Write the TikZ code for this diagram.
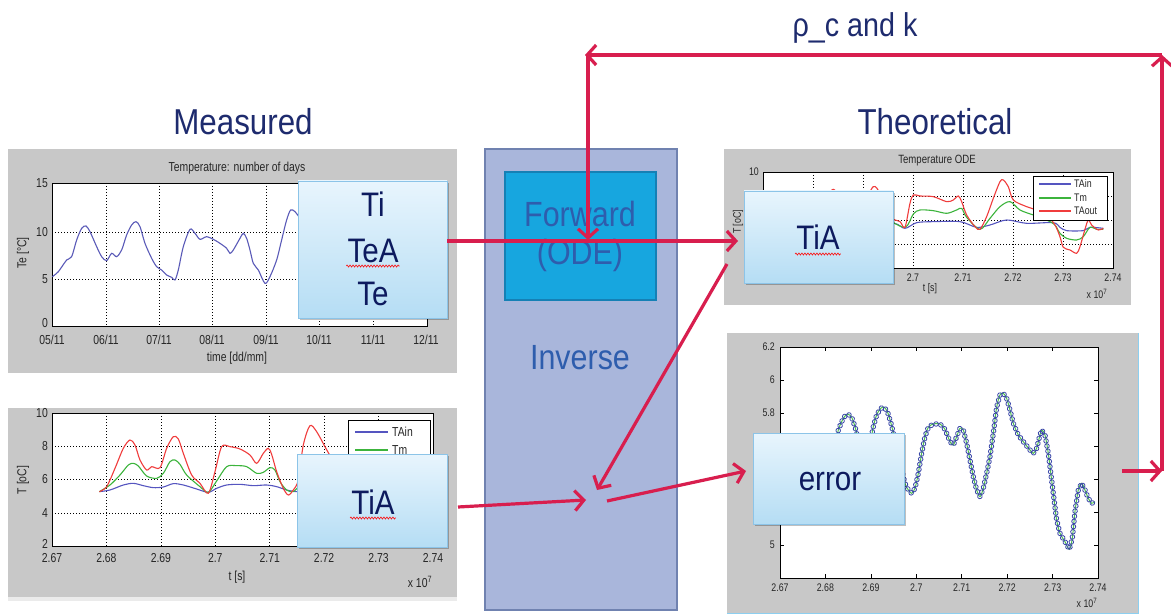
\documentclass[tikz,border=0pt]{standalone}
\usepackage{fontspec}
\setmainfont[FakeStretch=0.87]{Liberation Sans}
\newfontfamily\pf[FakeStretch=0.8]{Liberation Sans}
\usetikzlibrary{arrows.meta,shadows,decorations.pathmorphing,decorations.markings}
\definecolor{arrc}{HTML}{D81E4E}
\definecolor{panelc}{HTML}{C8C8C8}
\definecolor{navy}{HTML}{0D1A5E}
\definecolor{headc}{HTML}{1E2B6E}
\definecolor{invfill}{HTML}{A9B6DB}
\definecolor{invedge}{HTML}{7082B0}
\definecolor{fwdfill}{HTML}{17A6DF}
\definecolor{fwdedge}{HTML}{1580B5}
\definecolor{fwdtext}{HTML}{2E5DAD}
\definecolor{boxtop}{HTML}{E8F5FD}
\definecolor{boxbot}{HTML}{B5DDF4}
\definecolor{boxedge}{HTML}{8CC4E8}
\definecolor{tainc}{HTML}{5555C0}
\definecolor{tmc}{HTML}{3CB43C}
\definecolor{taoutc}{HTML}{F03C3C}
\definecolor{tec}{HTML}{5A5AB8}
\definecolor{markc}{HTML}{3A46A8}
\definecolor{errline}{HTML}{4CBF4C}
\definecolor{edgeblue}{HTML}{8CCFF0}
\tikzset{
  arr/.style={draw=arrc, line width=3.2pt, -{Straight Barb[length=9pt,width=20pt]}},
  gridl/.style={black, line width=0.6pt, dash pattern=on 1.2pt off 1.8pt},
  frame/.style={draw=black, line width=0.7pt},
  lbl/.style={font=\pf\fontsize{13}{13}\selectfont, text=black!85, inner sep=0pt},
  slbl/.style={font=\pf\fontsize{11}{11}\selectfont, text=black!85, inner sep=0pt},
  lbox/.style={draw=boxedge, line width=0.8pt, top color=boxtop, bottom color=boxbot,
    drop shadow={shadow xshift=2pt, shadow yshift=-2pt, fill=black, opacity=0.25}, inner sep=0pt},
  btxt/.style={font=\fontsize{34}{34}\selectfont, text=navy, inner sep=0pt, anchor=base},
  headt/.style={font=\fontsize{36}{36}\selectfont, text=headc, inner sep=0pt, anchor=base},
  squig/.style={draw=red, line width=0.6pt, decorate, decoration={zigzag, segment length=3pt, amplitude=1pt}},
  curve/.style={line width=1.1pt},
}
\def\errdata{(330,470) (345,380) (355,330) (365,305) (375,288) (385,283) (395,292) (405,320) (415,360) (430,420) (445,400) (460,320) (470,285) (482,265) (493,262) (503,277) (513,310) (525,360) (540,430) (555,490) (565,510) (575,520) (585,505) (595,460) (605,400) (615,350) (625,322) (640,312) (660,312) (675,328) (690,365) (700,375) (710,350) (720,325) (730,330) (740,370) (750,420) (760,470) (770,510) (780,530) (790,505) (800,460) (810,410) (820,340) (830,262) (840,225) (850,220) (860,235) (870,270) (880,310) (895,345) (910,365) (930,390) (940,400) (950,385) (960,345) (965,330) (975,345) (985,400) (995,480) (1003,545) (1010,600) (1020,640) (1035,665) (1048,688) (1057,655) (1065,575) (1075,510) (1085,490) (1095,510) (1105,535) (1115,550) (1125,545)}
\begin{document}
\begin{tikzpicture}[x=1pt,y=-1pt]
\useasboundingbox (0,0) rectangle (1171,615);
\fill[white] (0,0) rectangle (1171,615);

% ---------------- Measured plot 1
\fill[panelc] (8,149) rectangle (457,373);
\fill[white] (52,183) rectangle (427,326);
\foreach \x in {106,159,212,266,319,373} \draw[gridl] (\x,183) -- (\x,326);
\foreach \y in {232,279} \draw[gridl] (52,\y) -- (427,\y);
\draw[frame] (52,183) rectangle (427,326);
\foreach \x/\t in {52/05\slash11,106/06\slash11,159/07\slash11,212/08\slash11,266/09\slash11,319/10\slash11,373/11\slash11,426/12\slash11}
  \node[lbl] at (\x,340) {\t};
\foreach \y/\t in {183/15,232/10,279/5,323/0} \node[lbl, anchor=east] at (48,\y) {\t};
\node[lbl] (m1title) at (237,168) {Temperature: number of days};
\node[lbl] (m1xl) at (237,358) {time [dd/mm]};
\node[lbl, rotate=90] (m1yl) at (23,253) {Te [°C]};
\begin{scope}[shift={(0,140)}, x=0.3333pt, y=-0.3333pt]
\draw[tec, curve] plot[smooth, tension=0.5] coordinates {(157,410) (175,395) (200,360) (215,350) (230,300) (245,265) (258,258) (270,275) (290,320) (305,350) (320,362) (335,340) (350,350) (365,330) (380,285) (395,255) (408,245) (420,260) (435,310) (455,355) (470,380) (485,390) (500,405) (515,412) (525,420) (535,390) (550,320) (570,268) (585,280) (600,298) (620,290) (640,298) (660,310) (680,325) (690,340) (700,330) (720,295) (730,280) (740,295) (750,330) (760,370) (775,390) (795,430) (810,410) (830,360) (845,300) (860,240) (872,210) (885,215) (900,235)};
\end{scope}

% ---------------- Measured plot 2
\fill[panelc] (8,408) rectangle (457,597);
\fill[black!8] (8,597) rectangle (457,601);
\fill[white] (52,413) rectangle (433,546);
\foreach \x in {106.4,160.9,215.3,269.7,324.1,378.6} \draw[gridl] (\x,413) -- (\x,546);
\foreach \y in {446.3,479.5,512.8} \draw[gridl] (52,\y) -- (433,\y);
\draw[frame] (52,413) rectangle (433,546);
\foreach \x/\t in {52/2.67,106.4/2.68,160.9/2.69,215.3/2.7,269.7/2.71,324.1/2.72,378.6/2.73,433/2.74}
  \node[lbl] at (\x,558) {\t};
\foreach \y/\t in {413/10,446.3/8,479.5/6,512.8/4,544/2} \node[lbl, anchor=east] at (48,\y) {\t};
\node[lbl] (m2xl) at (237,577) {t [s]};
\node[lbl] (m2ex) at (420,582) {x 10\textsuperscript{7}};
\node[lbl, rotate=90] (m2yl) at (23,480) {T [oC]};
\begin{scope}[shift={(0,395)}, x=0.3333pt, y=-0.3333pt]
\draw[tainc, curve] plot[smooth, tension=0.5] coordinates {(298,290) (330,285) (370,270) (400,265) (430,272) (460,278) (490,276) (520,266) (550,270) (590,282) (625,292) (650,280) (680,270) (720,268) (760,272) (800,270) (830,275) (860,285) (890,290) (920,288)};
\draw[tmc, curve] plot[smooth, tension=0.5] coordinates {(298,290) (330,270) (360,240) (385,210) (400,205) (415,213) (440,243) (470,250) (490,235) (510,200) (525,195) (540,208) (560,240) (600,275) (625,292) (650,258) (680,215) (710,212) (740,215) (770,235) (790,232) (810,218) (825,225) (840,260) (860,285) (880,290) (900,270)};
\draw[taoutc, curve] plot[smooth, tension=0.5] coordinates {(298,290) (320,275) (345,220) (370,160) (390,135) (405,150) (420,195) (440,225) (455,215) (480,218) (500,160) (520,125) (535,132) (550,175) (575,240) (600,265) (625,295) (645,230) (665,155) (690,155) (720,162) (750,180) (770,205) (790,175) (805,160) (815,178) (830,230) (850,280) (865,300) (880,285) (895,255) (910,150) (930,92) (950,110) (975,155) (1000,200)};
\end{scope}
\draw[fill=white, line width=0.5pt] (348,420) rectangle (430,478);
\draw[tainc, curve] (355,432) -- (388,432); \node[lbl, anchor=west] at (392,432) {TAin};
\draw[tmc, curve] (355,450) -- (388,450); \node[lbl, anchor=west] at (392,450) {Tm};
\draw[taoutc, curve] (355,468) -- (388,468); \node[lbl, anchor=west] at (392,468) {TAout};

% ---------------- Theoretical plot 1
\fill[panelc] (724,149) rectangle (1131,305);
\fill[white] (763,172) rectangle (1113,268);
\foreach \x in {813,863,913,963,1013,1063} \draw[gridl] (\x,172) -- (\x,268);
\foreach \y in {196,220,244} \draw[gridl] (763,\y) -- (1113,\y);
\draw[frame] (763,172) rectangle (1113,268);
\foreach \x/\t in {763/2.67,813/2.68,863/2.69,913/2.7,963/2.71,1013/2.72,1063/2.73,1113/2.74}
  \node[slbl] at (\x,278) {\t};
\foreach \y/\t in {172/10,196/8,220/6,244/4,267/2} \node[slbl, anchor=east] at (759,\y) {\t};
\node[slbl, font=\pf\fontsize{12}{12}\selectfont] (t1title) at (937,161) {Temperature ODE};
\node[slbl] (t1xl) at (930,289) {t [s]};
\node[slbl] (t1ex) at (1097,294) {x 10\textsuperscript{7}};
\node[slbl, rotate=90] (t1yl) at (738,222) {T [oC]};
\begin{scope}[shift={(700,140)}, x=0.3333pt, y=-0.3333pt]
\draw[tainc, curve] plot[smooth, tension=0.5] coordinates {(310,255) (400,245) (500,245) (583,250) (615,265) (650,248) (700,245) (780,245) (830,262) (870,255) (920,240) (980,250) (1060,248) (1080,262) (1100,272) (1150,272) (1170,262) (1210,265)};
\draw[tmc, curve] plot[smooth, tension=0.5] coordinates {(310,255) (380,215) (400,205) (450,235) (520,200) (560,235) (615,262) (640,222) (660,210) (700,212) (740,220) (770,210) (785,205) (800,232) (840,268) (870,235) (900,200) (930,185) (960,210) (1000,225) (1040,240) (1065,255) (1080,280) (1100,295) (1130,300) (1150,290) (1170,262) (1190,268) (1210,268)};
\draw[taoutc, curve] plot[smooth, tension=0.5] coordinates {(310,255) (350,220) (380,170) (400,148) (420,170) (450,205) (490,190) (520,140) (540,160) (570,230) (600,245) (615,262) (630,190) (640,165) (660,168) (700,170) (740,185) (760,180) (775,168) (785,185) (800,225) (825,260) (840,268) (860,230) (880,175) (900,125) (910,120) (925,140) (940,180) (980,200) (1010,210) (1040,225) (1065,255) (1080,290) (1090,322) (1110,330) (1130,340) (1140,320) (1155,268) (1165,240) (1175,255) (1195,270) (1210,265)};
\end{scope}
\draw[fill=white, line width=0.5pt] (1033,176) rectangle (1107,220);
\draw[tainc, curve] (1039,184) -- (1071,184); \node[slbl, anchor=west] at (1074,184) {TAin};
\draw[tmc, curve] (1039,198) -- (1071,198); \node[slbl, anchor=west] at (1074,198) {Tm};
\draw[taoutc, curve] (1039,211) -- (1071,211); \node[slbl, anchor=west] at (1074,211) {TAout};

% ---------------- Theoretical plot 2 (error)
\fill[panelc] (727,333) rectangle (1138,613);
\draw[edgeblue, line width=0.8pt] (1138,333) -- (1138,613) -- (727,613);
\fill[white] (780,347) rectangle (1098,578);
\draw[frame] (780,347) rectangle (1098,578);
\foreach \y/\t in {347/6.2,380/6,413/5.8,446/5.6,479/5.4,512/5.2,545/5} {
  \node[slbl, anchor=east] at (775,\y) {\t};
  \draw[line width=0.5pt] (780,\y) -- (784,\y) (1098,\y) -- (1094,\y);
}
\foreach \x/\t in {780/2.67,825.4/2.68,870.9/2.69,916.3/2.7,961.7/2.71,1007.1/2.72,1052.6/2.73,1098/2.74} {
  \node[slbl] at (\x,588) {\t};
  \draw[line width=0.5pt] (\x,578) -- (\x,574) (\x,347) -- (\x,351);
}
\node[slbl] (t2ex) at (1087,603) {x 10\textsuperscript{7}};
\begin{scope}[shift={(720,320)}, x=0.3333pt, y=-0.3333pt]
\draw[errline, line width=1pt] plot[smooth, tension=0.5] coordinates {\errdata};
\path[decorate, decoration={markings, mark=between positions 0 and 1 step 5.2pt with {\draw[markc, line width=0.8pt] (0,0) circle (2.3pt);}}]
  plot coordinates {\errdata};
\end{scope}

% ---------------- Inverse / Forward
\node[draw=invedge, fill=invfill, line width=2pt, minimum width=192pt, minimum height=461pt, inner sep=0pt] (inv) at (581,379.5) {};
\node[draw=fwdedge, fill=fwdfill, line width=2pt, minimum width=151pt, minimum height=128pt, inner sep=0pt] (fwd) at (580.5,236) {};
\node[headt, text=fwdtext, font=\fontsize{35}{35}\selectfont] (fwd1) at (580,226) {Forward};
\node[headt, text=fwdtext, font=\fontsize{35}{35}\selectfont] (fwd2) at (580,264) {(ODE)};
\node[headt, text=fwdtext, font=\fontsize{35}{35}\selectfont] (invt) at (580,369) {Inverse};

% ---------------- Headings
\node[headt] (meas) at (243,135) {Measured};
\node[headt] (theo) at (935,135) {Theoretical};
\node[headt, font=\fontsize{33}{33}\selectfont] (rck) at (855,37) {ρ\_c and k};

% ---------------- Label boxes
\node[lbox, minimum width=149pt, minimum height=137pt] (b1) at (372.5,249.5) {};
\node[btxt] (b1a) at (373,217) {Ti};
\node[btxt] (b1b) at (373,262) {TeA};
\node[btxt] (b1c) at (373,305) {Te};
\draw[squig] ([xshift=-1pt,yshift=-4pt]b1b.base west) -- ([xshift=1pt,yshift=-4pt]b1b.base east);

\node[lbox, minimum width=150pt, minimum height=93pt] (b2) at (372,500.5) {};
\node[btxt] (b2a) at (373,514) {TiA};
\draw[squig] ([xshift=-1pt,yshift=-4pt]b2a.base west) -- ([xshift=1pt,yshift=-4pt]b2a.base east);

\node[lbox, minimum width=149pt, minimum height=92pt] (tia) at (818.5,237) {};
\node[btxt] (tiat) at (818,250) {TiA};
\draw[squig] ([xshift=-1pt,yshift=-4pt]tiat.base west) -- ([xshift=1pt,yshift=-4pt]tiat.base east);

\node[lbox, minimum width=151pt, minimum height=91pt] (err) at (828.5,478.5) {};
\node[btxt] (errt) at (830,490) {error};

% ---------------- Arrows
\coordinate (a1e) at (738,241);
\coordinate (a2s) at (727,264);
\coordinate (a2e) at (597,490);
\coordinate (a3s) at (458,507);
\coordinate (a3e) at (586,500);
\coordinate (a4s) at (607,501);
\coordinate (a4e) at (746,471);
\coordinate (a5s) at (1122,471);
\coordinate (br) at (1162,471);
\coordinate (tr) at (1162,55);
\coordinate (tl) at (585,55);
\coordinate (tl2) at (588,55);
\coordinate (fwin) at (588,240);
\draw[arr] (b1.east |- a1e) -- (a1e);
\draw[arr] (a2s) -- (a2e);
\draw[arr] (a3s) -- (a3e);
\draw[arr] (a4s) -- (a4e);
\draw[arr] (a5s) -- (br);
\draw[arr] (br) -- (tr);
\draw[arr] (tr) -- (tl);
\draw[arr] (tl2) -- (fwin);
\end{tikzpicture}
\end{document}
